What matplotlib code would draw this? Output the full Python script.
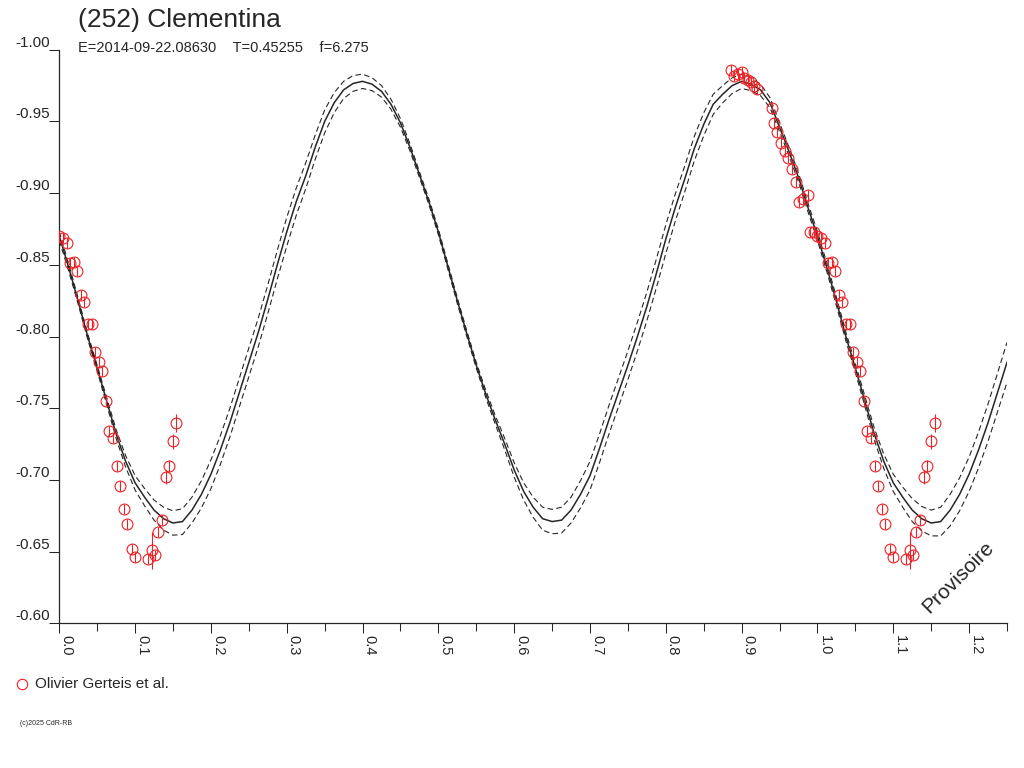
import numpy as np
import matplotlib.pyplot as plt
from matplotlib.lines import Line2D

plt.rcParams['font.family'] = ['Liberation Sans', 'DejaVu Sans']

####################################
#### Lightcurve data
####################################

titleText = '(252) Clementina'
subText = 'E=2014-09-22.08630    T=0.45255    f=6.275'
legendText = 'Olivier Gerteis et al.'
footText = '(c)2025 CdR-RB'
stampText = 'Provisoire'

# fitted curve, one full period sampled every 0.0125 in phase
curvePhase = np.linspace(0.0, 1.0, 81)
curveMag = [-0.870, -0.848, -0.8245, -0.800, -0.778, -0.755, -0.732, -0.713, -0.698, -0.688,
            -0.679, -0.673, -0.670, -0.671, -0.679, -0.690, -0.704, -0.721, -0.740, -0.761,
            -0.782, -0.803, -0.826, -0.850, -0.873, -0.894, -0.912, -0.932, -0.950, -0.963,
            -0.972, -0.9765, -0.978, -0.976, -0.971, -0.962, -0.949, -0.932, -0.913, -0.894,
            -0.873, -0.849, -0.825, -0.802, -0.780, -0.760, -0.742, -0.725, -0.707, -0.692,
            -0.681, -0.673, -0.671, -0.672, -0.679, -0.690, -0.703, -0.722, -0.742, -0.761,
            -0.780, -0.800, -0.821, -0.844, -0.868, -0.890, -0.910, -0.931, -0.948, -0.962,
            -0.969, -0.975, -0.978, -0.976, -0.972, -0.963, -0.946, -0.929, -0.911, -0.890,
            -0.870]

# half width of the dashed envelope, phase 0.0 .. 1.25 every 0.0125
bandWidth = [0.003, 0.0025, 0.002, 0.002, 0.002, 0.0025, 0.003, 0.004, 0.005, 0.006,
             0.007, 0.008, 0.0085, 0.009, 0.009, 0.0095, 0.010, 0.010, 0.010, 0.010,
             0.010, 0.010, 0.010, 0.010, 0.010, 0.0095, 0.009, 0.0085, 0.008, 0.007,
             0.006, 0.0055, 0.005, 0.0045, 0.004, 0.0035, 0.003, 0.0025, 0.002, 0.002,
             0.002, 0.002, 0.002, 0.002, 0.002, 0.0025, 0.003, 0.004, 0.005, 0.006,
             0.007, 0.008, 0.0085, 0.009, 0.009, 0.0095, 0.010, 0.010, 0.010, 0.010,
             0.010, 0.010, 0.010, 0.010, 0.010, 0.0095, 0.009, 0.0085, 0.008, 0.007,
             0.006, 0.0055, 0.005, 0.0045, 0.004, 0.0035, 0.003, 0.003, 0.003, 0.003,
             0.003, 0.003, 0.003, 0.003, 0.003, 0.0035, 0.004, 0.005, 0.006, 0.007,
             0.008, 0.0085, 0.009, 0.010, 0.011, 0.0115, 0.012, 0.0125, 0.013, 0.0135,
             0.014]

# observations (phase, reduced magnitude, error)
obsPhase = [0.8857, 0.8905, 0.8950, 0.9003, 0.9037, 0.9082, 0.9125, 0.9169, 0.9200,
            0.9398, 0.9433, 0.9472, 0.9521, 0.9574, 0.9610, 0.9670, 0.9715, 0.9763,
            0.9815, 0.9873, 0.9904, 0.9957,
            1.0000, 1.0053, 1.0098, 1.0141, 1.0194, 1.0237, 1.0286, 1.0330, 1.0375,
            1.0427, 1.0471, 1.0524, 1.0567, 1.0616, 1.0660, 1.0704, 1.0757, 1.0801,
            1.0850, 1.0893, 1.0955, 1.0999, 1.1166, 1.1219, 1.1263, 1.1306, 1.1351,
            1.1404, 1.1447, 1.1500, 1.1544]
obsMag = [-0.986, -0.9815, -0.983, -0.9845, -0.980, -0.979, -0.9775, -0.9745, -0.9727,
          -0.9594, -0.9487, -0.9427, -0.935, -0.9292, -0.9245, -0.917, -0.908, -0.894,
          -0.896, -0.8985, -0.873, -0.873,
          -0.870, -0.869, -0.865, -0.851, -0.852, -0.846, -0.829, -0.824, -0.809,
          -0.809, -0.789, -0.782, -0.776, -0.755, -0.734, -0.729, -0.710, -0.696,
          -0.680, -0.669, -0.652, -0.6465, -0.645, -0.651, -0.648, -0.664, -0.672,
          -0.702, -0.710, -0.727, -0.740]
obsErr = [0.0035, 0.0035, 0.0035, 0.0035, 0.0035, 0.0035, 0.0035, 0.0035, 0.0035,
          0.0035, 0.0035, 0.0035, 0.0035, 0.0035, 0.0035, 0.0035, 0.0035, 0.0035,
          0.0035, 0.0035, 0.0035, 0.0035,
          0.0035, 0.0035, 0.0035, 0.0035, 0.0035, 0.0035, 0.0035, 0.0035, 0.0035,
          0.0035, 0.0035, 0.0035, 0.0035, 0.0035, 0.0035, 0.0035, 0.0035, 0.0035,
          0.0035, 0.0035, 0.0037, 0.0035, 0.0035, 0.013, 0.0035, 0.0035, 0.0035,
          0.0047, 0.0042, 0.0052, 0.0063]

xTicks = [0.0, 0.1, 0.2, 0.3, 0.4, 0.5, 0.6, 0.7, 0.8, 0.9, 1.0, 1.1, 1.2]
xLabels = ['0.0', '0.1', '0.2', '0.3', '0.4', '0.5', '0.6', '0.7', '0.8', '0.9', '1.0', '1.1', '1.2']
xMinor = [0.05, 0.15, 0.25, 0.35, 0.45, 0.55, 0.65, 0.75, 0.85, 0.95, 1.05, 1.15, 1.25]
yTicks = [-1.00, -0.95, -0.90, -0.85, -0.80, -0.75, -0.70, -0.65, -0.60]
yLabels = ['-1.00', '-0.95', '-0.90', '-0.85', '-0.80', '-0.75', '-0.70', '-0.65', '-0.60']

####################################
#### Plot
####################################

ink = '#262626'
red = '#ee2024'

fig = plt.figure(figsize=(10.24, 7.68), dpi=100)
ax = fig.add_axes([0.0579, 0.1883, 0.9255, 0.7469])

# curve repeated past phase 1
plotPhase = np.concatenate([curvePhase, curvePhase[1:21] + 1.0])
plotMag = np.concatenate([curveMag, curveMag[1:21]])
band = np.array(bandWidth)

ax.plot(plotPhase, plotMag, color=ink, lw=1.1, zorder=2)
ax.plot(plotPhase, plotMag - band, color=ink, lw=0.8, dashes=(5, 3), zorder=2)
ax.plot(plotPhase, plotMag + band, color=ink, lw=0.8, dashes=(5, 3), zorder=2)

# points past phase 1 are also drawn one period earlier
phaseArr = np.array(obsPhase)
magArr = np.array(obsMag)
errArr = np.array(obsErr)
wrapped = phaseArr >= 1.0
allPhase = np.concatenate([phaseArr, phaseArr[wrapped] - 1.0])
allMag = np.concatenate([magArr, magArr[wrapped]])
allErr = np.concatenate([errArr, errArr[wrapped]])

ax.errorbar(allPhase, allMag, yerr=allErr, fmt='o', mfc='none', mec=red, ecolor=red,
            ms=7.8, mew=0.8, elinewidth=0.8, capsize=0, zorder=3)

ax.set_xlim(0, 1.25)
ax.set_ylim(-0.60, -1.00)

ax.set_xticks(xTicks)
ax.set_xticks(xMinor, minor=True)
ax.set_xticklabels(xLabels, rotation=270, ha='left', va='top', fontsize=10.5, color=ink)
ax.set_yticks(yTicks)
ax.set_yticklabels(yLabels, va='bottom', fontsize=11, color=ink)

ax.tick_params(axis='x', which='major', direction='out', length=7.2, width=0.75, pad=1, color=ink)
ax.tick_params(axis='x', which='minor', direction='out', length=5.8, width=0.75, color=ink)
ax.tick_params(axis='y', which='major', direction='out', length=7.0, width=0.75, pad=0, color=ink)

for side in ['top', 'right']:
    ax.spines[side].set_visible(False)
for side in ['left', 'bottom']:
    ax.spines[side].set_color(ink)
    ax.spines[side].set_linewidth(0.9)

# header texts
fig.text(0.0762, 0.974, titleText, fontsize=19, color=ink, va='center', ha='left')
fig.text(0.0762, 0.9375, subText, fontsize=10.5, color=ink, va='center', ha='left')

# watermark
fig.text(0.9355, 0.2487, stampText, fontsize=15, color=ink, rotation=45,
         ha='center', va='center')

# legend below the axes
fig.add_artist(Line2D([0.0215], [0.1094], marker='o', ms=7.5, mfc='none', mec=red,
                      mew=0.8, ls='none', transform=fig.transFigure))
fig.text(0.0342, 0.1094, legendText, fontsize=11, color=ink, va='center', ha='left')

fig.text(0.0195, 0.0573, footText, fontsize=5, color=ink, va='center', ha='left')

plt.savefig('out.png', dpi=100)
